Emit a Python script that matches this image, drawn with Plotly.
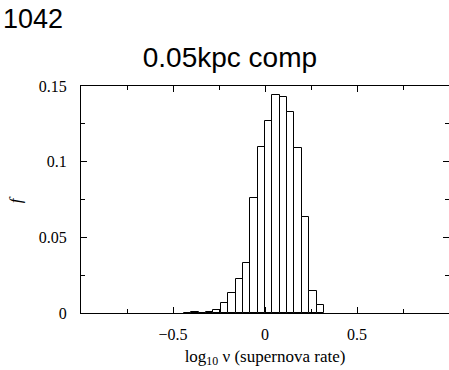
import plotly.graph_objects as go

# histogram of log10 supernova rate, bins of width 0.04 (left edges)
bin_left = [-0.44, -0.40, -0.36, -0.32, -0.28, -0.24, -0.20, -0.16, -0.12, -0.08,
            -0.04, 0.00, 0.04, 0.08, 0.12, 0.16, 0.20, 0.24, 0.28]
frac = [0.0003, 0.0005, 0.0003, 0.0007, 0.0022, 0.0064, 0.013, 0.0222, 0.0328, 0.0762,
        0.1099, 0.1266, 0.1442, 0.1425, 0.133, 0.1088, 0.0632, 0.0145, 0.0050]
bin_width = 0.04

x_tickvals = [-0.5, 0, 0.5]
x_ticktext = ["\u22120.5", "0", "0.5"]
x_minor = [-0.75, -0.25, 0.25, 0.75]
y_tickvals = [0, 0.05, 0.1, 0.15]
y_ticktext = ["0", "0.05", "0.1", "0.15"]
y_minor = [0.025, 0.075, 0.125]

serif = "Liberation Serif, Times New Roman, serif"
sans = "Liberation Sans, Arial, Helvetica, sans-serif"

fig = go.Figure(
    go.Bar(
        x=bin_left,
        y=frac,
        width=bin_width,
        offset=0,
        marker={"color": "white", "line": {"color": "black", "width": 1}},
    )
)

axis_common = {
    "showline": True,
    "linecolor": "black",
    "linewidth": 1,
    "mirror": "ticks",
    "ticks": "inside",
    "ticklen": 6,
    "tickcolor": "black",
    "showgrid": False,
    "zeroline": False,
    "tickfont": {"family": serif, "size": 16, "color": "black"},
}

fig.update_layout(
    width=449,
    height=370,
    margin={"l": 81, "r": 0, "t": 86, "b": 57},
    plot_bgcolor="white",
    paper_bgcolor="white",
    showlegend=False,
    bargap=0,
    title={
        "text": "0.05kpc comp",
        "x": 0.512,
        "xanchor": "center",
        "y": 0.845,
        "yanchor": "middle",
        "font": {"family": sans, "size": 28, "color": "black"},
    },
    xaxis={
        **axis_common,
        "range": [-1, 1],
        "tickvals": x_tickvals,
        "ticktext": x_ticktext,
        "minor": {"tickvals": x_minor, "ticks": "inside", "ticklen": 4, "tickcolor": "black"},
        "ticklabelstandoff": 7,
        "title": {
            "text": "log<sub>10</sub> \u03bd (supernova rate)",
            "font": {"family": serif, "size": 17, "color": "black"},
            "standoff": 7,
        },
    },
    yaxis={
        **axis_common,
        "range": [0, 0.15],
        "tickvals": y_tickvals,
        "ticktext": y_ticktext,
        "minor": {"tickvals": y_minor, "ticks": "inside", "ticklen": 4, "tickcolor": "black"},
        "ticklabelstandoff": 10,
    },
    annotations=[
        {
            "text": "1042",
            "xref": "paper",
            "yref": "paper",
            "x": -0.218,
            "y": 1.0,
            "xanchor": "left",
            "yanchor": "bottom",
            "yshift": 50,
            "showarrow": False,
            "font": {"family": sans, "size": 27, "color": "black"},
        },
        {
            # y-axis label, lying on its side as in the original
            "text": "<i>f</i>",
            "xref": "paper",
            "yref": "paper",
            "x": -0.177,
            "y": 0.5,
            "xanchor": "center",
            "yanchor": "middle",
            "textangle": -90,
            "showarrow": False,
            "font": {"family": serif, "size": 17, "color": "black"},
        },
    ],
)

# drop the default 8px page margin so the figure sits at the window's corner
fig.write_html(
    "out.html",
    config={"displayModeBar": False},
    post_script="document.body.style.margin = '0';",
)
